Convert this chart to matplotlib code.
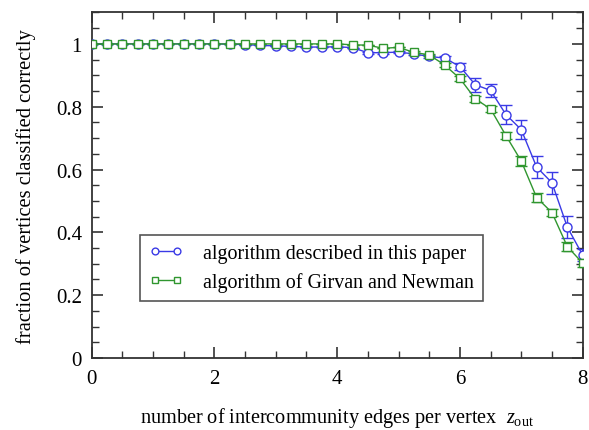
import matplotlib
matplotlib.use("Agg")
import matplotlib.pyplot as plt
from matplotlib.ticker import MultipleLocator

z_out = [0.0, 0.25, 0.5, 0.75, 1.0, 1.25, 1.5, 1.75, 2.0, 2.25, 2.5, 2.75,
         3.0, 3.25, 3.5, 3.75, 4.0, 4.25, 4.5, 4.75, 5.0, 5.25, 5.5, 5.75,
         6.0, 6.25, 6.5, 6.75, 7.0, 7.25, 7.5, 7.75, 8.0]

this_paper = [1.0, 1.0, 1.0, 1.0, 1.0, 1.0, 1.0, 1.0, 1.0, 0.999, 0.998, 0.995,
              0.994, 0.992, 0.990, 0.990, 0.991, 0.988, 0.972, 0.972, 0.974, 0.968, 0.960, 0.955,
              0.928, 0.870, 0.852, 0.775, 0.727, 0.608, 0.558, 0.417, 0.328]
this_paper_err = [0.0, 0.0, 0.0, 0.0, 0.0, 0.0, 0.0, 0.0, 0.0, 0.0, 0.0, 0.0,
                  0.0, 0.0, 0.0, 0.0, 0.0, 0.0, 0.003, 0.003, 0.003, 0.004, 0.005, 0.008,
                  0.010, 0.022, 0.020, 0.030, 0.030, 0.035, 0.035, 0.035, 0.020]

girvan_newman = [1.0, 1.0, 1.0, 1.0, 1.0, 1.0, 1.0, 1.0, 1.0, 1.0, 1.0, 1.0,
                 1.0, 1.0, 1.0, 1.0, 1.0, 0.997, 0.996, 0.986, 0.989, 0.973, 0.965, 0.933,
                 0.890, 0.825, 0.793, 0.708, 0.627, 0.511, 0.463, 0.355, 0.302]
girvan_newman_err = [0.0, 0.0, 0.0, 0.0, 0.0, 0.0, 0.0, 0.0, 0.0, 0.0, 0.0, 0.0,
                     0.0, 0.0, 0.0, 0.0, 0.0, 0.0, 0.0, 0.0, 0.0, 0.003, 0.003, 0.005,
                     0.008, 0.010, 0.010, 0.012, 0.015, 0.015, 0.012, 0.015, 0.012]

labels = ["algorithm described in this paper", "algorithm of Girvan and Newman"]
x_ticks = [0, 2, 4, 6, 8]
y_ticks = [0, 0.2, 0.4, 0.6, 0.8, 1.0]
y_ticklabels = ['0', '0.2', '0.4', '0.6', '0.8', '1']

plt.rcParams['font.family'] = ['Liberation Serif', 'DejaVu Serif']
plt.rcParams['mathtext.fontset'] = 'custom'
plt.rcParams['mathtext.it'] = 'Liberation Serif:italic'
plt.rcParams['mathtext.rm'] = 'Liberation Serif'

fig = plt.figure(figsize=(5.89, 4.31), dpi=100)
ax = fig.add_axes([0.1557, 0.167, 0.8335, 0.8017])

blue = '#3a3ae6'
green = '#30962f'

eb1 = ax.errorbar(z_out, this_paper, yerr=this_paper_err, color=blue, lw=1.0,
                  marker='o', ms=6.5, mfc='white', mec=blue, mew=1.0,
                  capsize=4, elinewidth=1.0, capthick=1.0, zorder=3)
eb2 = ax.errorbar(z_out, girvan_newman, yerr=girvan_newman_err, color=green, lw=1.0,
                  marker='s', ms=5.5, mfc='white', mec=green, mew=1.0,
                  capsize=4, elinewidth=1.0, capthick=1.0, zorder=4)

ax.set_xlim(0, 8)
ax.set_ylim(0, 1.1)
ax.xaxis.set_minor_locator(MultipleLocator(0.5))
ax.yaxis.set_minor_locator(MultipleLocator(0.05))
ax.set_yticks(y_ticks)
ax.set_yticklabels(y_ticklabels)
ax.set_xticks(x_ticks)
ax.set_xticklabels([str(v) for v in x_ticks])

ax.tick_params(which='both', direction='in', top=True, right=True,
               labelsize=15, color='#333333')
ax.tick_params(which='major', length=8, width=1.2)
ax.tick_params(axis='x', which='major', pad=8)
ax.tick_params(axis='y', which='major', pad=7)
ax.tick_params(which='minor', length=5, width=1.0)
for s in ax.spines.values():
    s.set_linewidth(1.3)
    s.set_color('#333333')

ax.set_ylabel('fraction of vertices classified correctly', fontsize=14.8, labelpad=14)
ax.set_xlabel('number of intercommunity edges per vertex  $z_{\\mathrm{out}}$',
              fontsize=14.6, labelpad=12)

leg = ax.legend(handles=[eb1.lines[0], eb2.lines[0]], labels=labels,
                loc='lower left', bbox_to_anchor=(0.099, 0.164), borderaxespad=0,
                fontsize=14.4, frameon=True, fancybox=False, edgecolor='#555555',
                framealpha=1, numpoints=2, handlelength=1.7, markerscale=0.75,
                borderpad=0.45, labelspacing=0.45, handletextpad=1.0,
                borderaxespad_unused=None) if False else None
leg = ax.legend(handles=[eb1.lines[0], eb2.lines[0]], labels=labels,
                loc='lower left', bbox_to_anchor=(0.099, 0.164), borderaxespad=0,
                fontsize=14.4, frameon=True, fancybox=False, edgecolor='#555555',
                framealpha=1, numpoints=2, handlelength=1.7, markerscale=0.75,
                borderpad=0.45, labelspacing=0.45, handletextpad=1.0)
leg.get_frame().set_linewidth(1.2)

fig.savefig('out.png', dpi=100)
